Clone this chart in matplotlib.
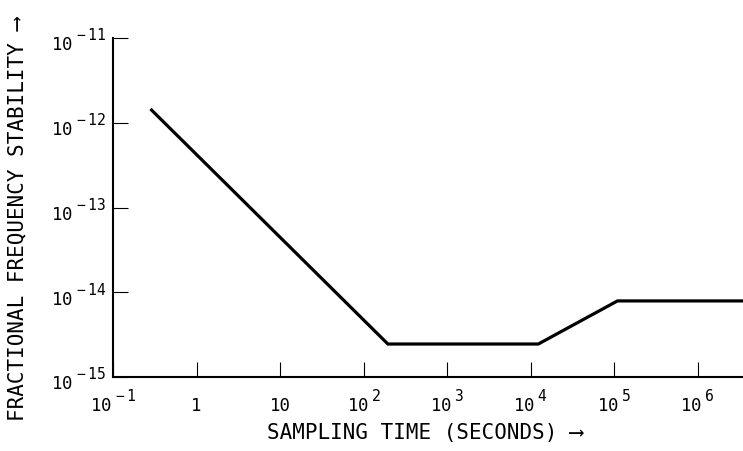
import matplotlib
matplotlib.use("Agg")
import matplotlib.pyplot as plt
from matplotlib.ticker import FixedLocator, FixedFormatter, NullLocator
from matplotlib import _mathtext

# Make superscripts larger and higher, like the typewritten original
_mathtext.SHRINK_FACTOR = 0.85
for _cls in [_mathtext.FontConstantsBase] + _mathtext.FontConstantsBase.__subclasses__():
    _cls.sup1 = 1.0

# Data
tau = [0.29, 196, 1.24e4, 1.1e5, 3.6e6]
sigma = [1.41e-12, 2.45e-15, 2.45e-15, 7.9e-15, 7.9e-15]

x_ticks = [1e-1, 1, 10, 1e2, 1e3, 1e4, 1e5, 1e6]
x_tick_labels = ['10$^{\\ -1}$', '1', '10', '10$^{\\ 2}$', '10$^{\\ 3}$',
                 '10$^{\\ 4}$', '10$^{\\ 5}$', '10$^{\\ 6}$']
y_ticks = [1e-15, 1e-14, 1e-13, 1e-12, 1e-11]
y_tick_labels = ['10$^{\\ -15}$', '10$^{\\ -14}$', '10$^{\\ -13}$',
                 '10$^{\\ -12}$', '10$^{\\ -11}$']

x_label = 'SAMPLING TIME (SECONDS) \u27f6'
y_label = 'FRACTIONAL FREQUENCY STABILITY \u27f6'

plt.rcParams['font.family'] = ['DejaVu Sans Mono', 'DejaVu Sans']
plt.rcParams['mathtext.fontset'] = 'custom'
plt.rcParams['mathtext.rm'] = 'DejaVu Sans Mono'
plt.rcParams['mathtext.it'] = 'DejaVu Sans Mono'
plt.rcParams['mathtext.bf'] = 'DejaVu Sans Mono'

fig = plt.figure(figsize=(7.43, 4.52), dpi=100)
ax = fig.add_axes([113/743, 74/452, 630/743, 339/452])

ax.plot(tau, sigma, color='black', lw=2.3, solid_joinstyle='miter')
ax.set_xscale('log')
ax.set_yscale('log')
ax.set_xlim(0.1, 10**(-1 + 630/83.5))
ax.set_ylim(1e-15, 1e-11)

ax.xaxis.set_major_locator(FixedLocator(x_ticks))
ax.xaxis.set_major_formatter(FixedFormatter(x_tick_labels))
ax.yaxis.set_major_locator(FixedLocator(y_ticks))
ax.yaxis.set_major_formatter(FixedFormatter(y_tick_labels))
ax.xaxis.set_minor_locator(NullLocator())
ax.yaxis.set_minor_locator(NullLocator())

for s in ['top', 'right']:
    ax.spines[s].set_visible(False)
for s in ['left', 'bottom']:
    ax.spines[s].set_linewidth(1.5)

ax.tick_params(axis='both', which='major', direction='in', length=10.5,
               width=0.8, labelsize=12.5, color='black')
ax.tick_params(axis='x', pad=24)
ax.tick_params(axis='y', pad=5)
for t in ax.xaxis.get_major_ticks():
    t.label1.set_verticalalignment('baseline')

fig.text(0.572, 0.02, x_label, ha='center', va='bottom', fontsize=15)
fig.text(0.024, 0.515, y_label, ha='center', va='center', rotation=90, fontsize=15)

fig.savefig('out.png', dpi=100)
